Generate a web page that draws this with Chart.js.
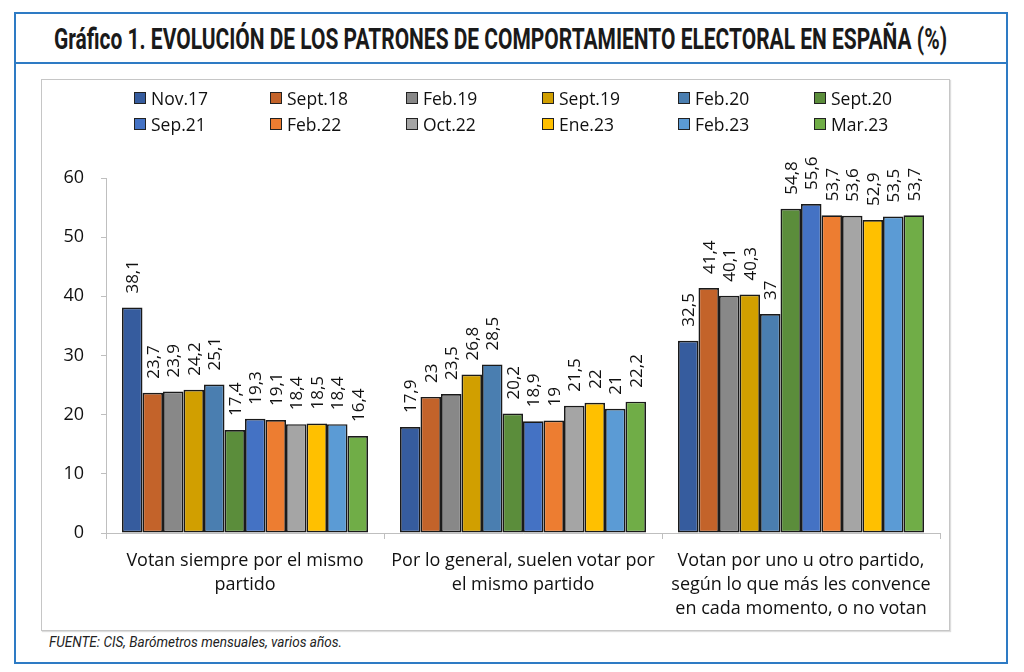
<!DOCTYPE html>
<html>
<head>
<meta charset="utf-8">
<script src="https://cdn.jsdelivr.net/npm/chart.js@4/dist/chart.umd.min.js"></script>
<style>
  body { margin: 0; background: #fff; width: 1024px; height: 672px; overflow: hidden; }
  #outer { position: absolute; left: 14px; top: 12px; width: 990px; height: 648px; border: 2px solid #2E7BC4; }
  #titlebar { position: absolute; left: 0; top: 0; width: 990px; height: 48px; border-bottom: 2px solid #2E7BC4; }
  #title { position: absolute; left: 38px; top: 8px; white-space: nowrap; transform-origin: 0 0;
           font-family: Roboto, sans-serif; font-weight: bold; font-size: 29px; color: #1a1a1a; line-height: 34px; }
  #box { position: absolute; left: 41px; top: 79px; width: 907px; height: 550px; border: 1px solid #C6C6C6;
         box-shadow: 1px 1px 1px #ddd; }
  #legend { position: absolute; left: 92px; top: 8px; display: grid; grid-template-columns: repeat(6, 136px);
            row-gap: 6px; font-family: 'Open Sans', sans-serif; font-size: 17.5px; color: #111; }
  #legend div { display: flex; align-items: center; height: 20px; }
  #legend span.sw { width: 10px; height: 10px; border: 1px solid #222; margin-right: 5px; flex: none; }
  #foot { position: absolute; left: 49px; top: 634px; white-space: nowrap; transform-origin: 0 0;
          font-family: Roboto, sans-serif; font-style: italic; font-size: 14px; color: #222; }
  canvas { position: absolute; left: 0; top: 0; }
</style>
</head>
<body>
<div id="outer"><div id="titlebar"><span id="title">Gráfico 1. EVOLUCIÓN DE LOS PATRONES DE COMPORTAMIENTO ELECTORAL EN ESPAÑA (%)</span></div></div>
<div id="box">
  <canvas id="chart" width="907" height="550"></canvas>
  <div id="legend"></div>
</div>
<span id="foot">FUENTE: CIS, Barómetros mensuales, varios años.</span>
<script>
const categories = [
    ['Votan siempre por el mismo', 'partido'],
    ['Por lo general, suelen votar por', 'el mismo partido'],
    ['Votan por uno u otro partido,', 'según lo que más les convence', 'en cada momento, o no votan']
];
const seriesNames = ['Nov.17', 'Sept.18', 'Feb.19', 'Sept.19', 'Feb.20', 'Sept.20',
                     'Sep.21', 'Feb.22', 'Oct.22', 'Ene.23', 'Feb.23', 'Mar.23'];
const seriesColors = ['#365C9E', '#C3632A', '#888888', '#D19F00', '#4A7EB0', '#5B8D3B',
                      '#4472C4', '#ED7D31', '#A5A5A5', '#FFC000', '#5B9BD5', '#70AD47'];

// valores por categoría, en el orden de las series
const votanSiempre = [38.1, 23.7, 23.9, 24.2, 25.1, 17.4, 19.3, 19.1, 18.4, 18.5, 18.4, 16.4];
const porLoGeneral = [17.9, 23, 23.5, 26.8, 28.5, 20.2, 18.9, 19, 21.5, 22, 21, 22.2];
const votanPorUno = [32.5, 41.4, 40.1, 40.3, 37, 54.8, 55.6, 53.7, 53.6, 52.9, 53.5, 53.7];

const yMax = 60;
const yStep = 10;

// texto condensado: se estrecha hasta el ancho del original
function squeeze(id, target) {
    const el = document.getElementById(id);
    el.style.transform = 'none';
    const w = el.getBoundingClientRect().width;
    if (w > 0) el.style.transform = 'scaleX(' + (target / w) + ')';
}
function fitTexts() {
    squeeze('title', 893);
    squeeze('foot', 293);
}
fitTexts();
document.fonts.ready.then(fitTexts);

const datasets = seriesNames.map((name, i) => ({
    label: name,
    data: [votanSiempre[i], porLoGeneral[i], votanPorUno[i]],
    backgroundColor: seriesColors[i],
    borderColor: '#1a1a1a',
    borderWidth: 1.7,
    borderSkipped: false,
    barPercentage: 1,
    categoryPercentage: 0.885
}));

// leyenda en rejilla de 6 columnas
const legendDiv = document.getElementById('legend');
seriesNames.forEach((name, i) => {
    const item = document.createElement('div');
    const sw = document.createElement('span');
    sw.className = 'sw';
    sw.style.background = seriesColors[i];
    item.appendChild(sw);
    item.appendChild(document.createTextNode(name));
    legendDiv.appendChild(item);
});

const valueLabels = {
    id: 'valueLabels',
    afterDatasetsDraw(chart) {
        const ctx = chart.ctx;
        ctx.save();
        ctx.font = '17px "Open Sans", sans-serif';
        ctx.fillStyle = '#111';
        ctx.textAlign = 'left';
        ctx.textBaseline = 'middle';
        chart.data.datasets.forEach((ds, i) => {
            chart.getDatasetMeta(i).data.forEach((bar, j) => {
                const txt = String(ds.data[j]).replace('.', ',');
                ctx.save();
                ctx.translate(bar.x + 1, bar.y - 14);
                ctx.rotate(-Math.PI / 2);
                ctx.fillText(txt, 0, 0);
                ctx.restore();
            });
        });
        ctx.restore();
    }
};

new Chart(document.getElementById('chart'), {
    type: 'bar',
    data: { labels: categories, datasets: datasets },
    options: {
        responsive: false,
        animation: false,
        layout: { padding: { top: 98, right: 9, left: 0, bottom: 0 } },
        plugins: {
            legend: { display: false },
            tooltip: { enabled: false }
        },
        scales: {
            x: {
                grid: { offset: true, drawOnChartArea: false, color: '#BFBFBF', tickLength: 6 },
                border: { color: '#BFBFBF' },
                ticks: { color: '#111', font: { family: 'Open Sans', size: 18, lineHeight: 1.34 }, padding: 10, maxRotation: 0 },
                afterFit(scale) { scale.height = 97; }
            },
            y: {
                min: 0,
                max: yMax,
                ticks: { stepSize: yStep, color: '#111', font: { family: 'Open Sans', size: 18 }, padding: 17 },
                grid: { drawOnChartArea: false, color: '#BFBFBF', tickLength: 5 },
                border: { color: '#BFBFBF' },
                afterFit(scale) { scale.width = 64; }
            }
        }
    },
    plugins: [valueLabels]
});
</script>
</body>
</html>
